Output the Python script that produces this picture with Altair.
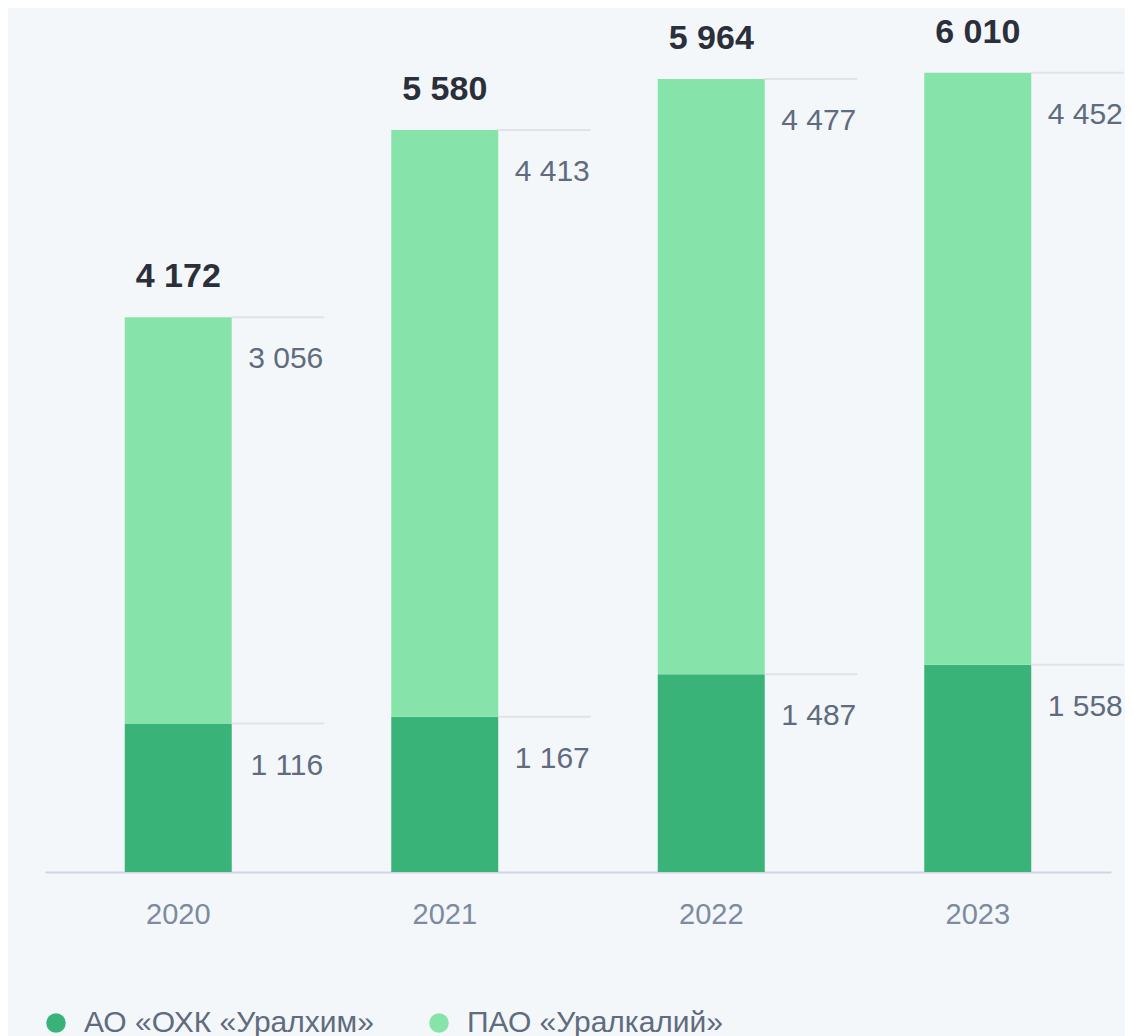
import altair as alt
import pandas as pd

years = ["2020", "2021", "2022", "2023"]
uralkhim = [1116, 1167, 1487, 1558]
uralkaliy = [3056, 4413, 4477, 4452]
series = ["АО «ОХК «Уралхим»", "ПАО «Уралкалий»"]
colors = ["#3ab378", "#86e4ab"]

FONT = "Liberation Sans"


def fmt(v):
    return f"{v:,}".replace(",", " ")


rows = []
for i, yr in enumerate(years):
    base = 0
    for o, (s, vals) in enumerate([(series[0], uralkhim), (series[1], uralkaliy)]):
        v = vals[i]
        rows.append(dict(year=yr, series=s, value=v, start=base, end=base + v,
                         label=fmt(v), order=o))
        base += v
df = pd.DataFrame(rows)

tot = pd.DataFrame(dict(year=years, total=[a + b for a, b in zip(uralkhim, uralkaliy)]))
tot["label"] = tot["total"].map(fmt)

x = alt.X("year:N", sort=years,
          scale=alt.Scale(paddingInner=0, paddingOuter=0),
          axis=alt.Axis(title=None, labelAngle=0, ticks=False, tickSize=0,
                        domainColor="#cfd6e1", domainWidth=2,
                        labelFontSize=29, labelColor="#7d8aa0", labelFont=FONT,
                        labelPadding=28))
yscale = alt.Scale(domain=[0, 6400], nice=False)

bars = alt.Chart(df).mark_bar(size=107).encode(
    x=x,
    y=alt.Y("start:Q", scale=yscale, axis=None),
    y2="end:Q",
    color=alt.Color("series:N", scale=alt.Scale(domain=series, range=colors),
                    legend=alt.Legend(title=None, orient="none", legendX=-4, legendY=987,
                                      direction="horizontal", symbolType="circle",
                                      symbolSize=380, symbolStrokeWidth=0,
                                      labelFontSize=30, labelFont=FONT, labelLimit=0,
                                      labelColor="#5f6b7e", labelOffset=13,
                                      columnPadding=50, padding=0)),
    order=alt.Order("order:Q"),
)

leaders = alt.Chart(df).mark_tick(size=93, thickness=2, color="#d5dae3",
                                  xOffset=99.5, orient="horizontal").encode(
    x=alt.X("year:N", sort=years),
    y=alt.Y("end:Q", scale=yscale),
)

values = alt.Chart(df).mark_text(align="right", baseline="middle", dx=145, dy=42,
                                 fontSize=30, font=FONT, color="#5f6b7e").encode(
    x=alt.X("year:N", sort=years),
    y=alt.Y("end:Q", scale=yscale),
    text="label:N",
)

totals = alt.Chart(tot).mark_text(align="center", baseline="middle", dy=-40,
                                  fontSize=34, fontWeight="bold", font=FONT,
                                  color="#2b2f3a").encode(
    x=alt.X("year:N", sort=years),
    y=alt.Y("total:Q", scale=yscale),
    text="label:N",
)

chart = alt.layer(bars, leaders, values, totals).properties(
    width=1066, height=851,
    background="#f4f7fa",
    padding={"left": 37, "top": 13, "right": 14, "bottom": 176},
    autosize=alt.AutoSizeParams(type="none"),
).configure_view(stroke=None)

chart.save("out.html", embed_options={"renderer": "svg", "actions": False})
